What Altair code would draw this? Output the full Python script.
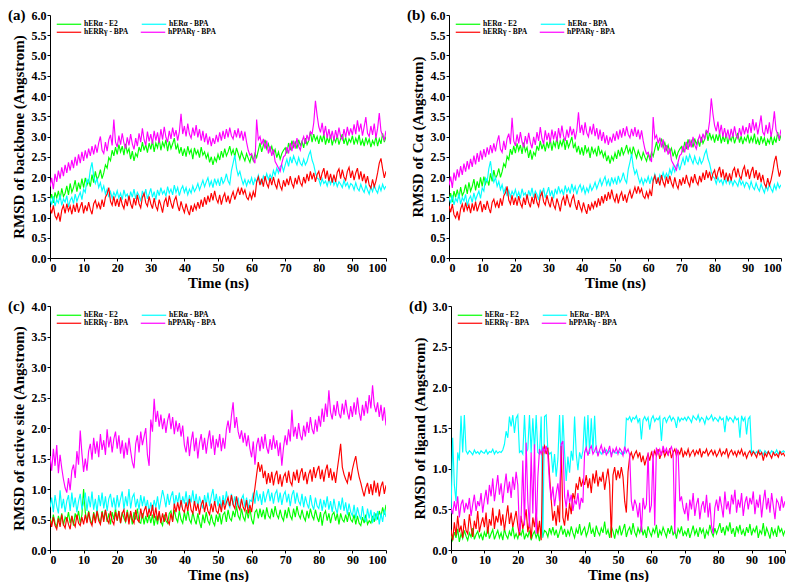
import pandas as pd
import altair as alt

# sampling grid (ns)
times = [i * 0.5 for i in range(201)]

series_names = ["hERα - E2", "hERα - BPA", "hERRγ - BPA", "hPPARγ - BPA"]
series_colors = ["#00FF00", "#00FFFF", "#FF0000", "#FF00FF"]
panel_labels = ["(a)", "(b)", "(c)", "(d)"]
y_titles = ["RMSD of backbone (Angstrom)", "RMSD of Cα (Angstrom)",
            "RMSD of active site (Angstrom)", "RMSD of ligand (Angstrom)"]
y_max = [6.0, 6.0, 4.0, 3.0]
x_ticks = [0, 10, 20, 30, 40, 50, 60, 70, 80, 90, 100]

# ---------------- panel (a): backbone ----------------
a_e2 = [
    1.40,1.58,1.36,1.62,1.48,1.66,1.44,1.72,1.52,1.60,1.78,1.56,1.84,1.62,1.74,1.92,1.64,1.86,1.70,1.96,
    1.74,1.98,1.80,1.92,1.76,2.06,1.86,2.14,1.94,2.02,2.18,1.96,2.10,2.30,2.22,2.48,2.40,2.66,2.52,2.74,
    2.56,2.80,2.62,2.76,2.54,2.82,2.60,2.70,2.44,2.64,2.40,2.58,2.50,2.74,2.62,2.86,2.66,2.80,2.60,2.84,
    2.68,2.90,2.62,2.84,2.72,2.94,2.66,2.86,2.74,2.92,2.64,2.88,2.70,2.82,2.96,2.68,2.80,2.58,2.74,2.52,
    2.70,2.50,2.76,2.58,2.68,2.44,2.72,2.56,2.66,2.48,2.74,2.54,2.62,2.46,2.58,2.36,2.50,2.30,2.48,2.38,
    2.56,2.42,2.64,2.48,2.70,2.52,2.62,2.76,2.56,2.68,2.50,2.72,2.58,2.44,2.62,2.50,2.40,2.58,2.46,2.36,
    2.54,2.40,2.58,2.48,2.66,2.84,2.62,2.78,2.92,2.70,2.82,2.64,2.76,2.58,2.68,2.48,2.62,2.44,2.58,2.66,
    2.72,2.58,2.84,2.66,2.90,2.74,2.86,2.70,2.92,2.78,2.88,2.72,2.96,2.80,2.90,3.12,2.86,3.06,2.90,3.00,
    2.82,3.02,2.86,3.06,2.80,2.98,2.84,3.04,2.78,2.96,2.86,3.02,2.80,2.94,3.06,2.82,2.98,2.78,2.94,2.86,
    3.02,2.80,2.96,2.84,3.04,2.78,2.92,2.76,2.98,2.82,2.94,2.74,2.90,2.80,3.00,2.76,2.94,2.82,3.08,2.86,
    3.00]
a_er_bpa = [
    1.48,1.32,1.52,1.28,1.44,1.36,1.56,1.30,1.46,1.38,1.54,1.26,1.42,1.50,1.34,1.58,1.40,1.52,1.62,1.44,
    1.70,1.62,1.94,1.86,2.18,2.36,2.02,1.84,1.96,1.74,1.86,1.66,1.78,1.58,1.70,1.50,1.64,1.48,1.62,1.52,
    1.66,1.48,1.60,1.44,1.68,1.52,1.58,1.42,1.64,1.50,1.70,1.46,1.62,1.54,1.40,1.66,1.50,1.70,1.46,1.58,
    1.72,1.50,1.64,1.44,1.68,1.54,1.74,1.58,1.66,1.52,1.76,1.60,1.70,1.56,1.80,1.62,1.74,1.54,1.70,1.78,
    1.62,1.74,1.56,1.70,1.60,1.78,1.64,1.72,1.84,1.68,1.80,1.92,1.76,1.88,1.98,1.78,1.90,1.74,1.96,1.82,
    1.94,1.78,2.00,1.84,1.92,2.08,1.90,1.82,2.16,2.34,2.54,2.22,2.04,2.14,1.96,1.82,1.94,1.78,1.92,1.84,
    1.98,1.80,1.96,1.86,2.04,1.90,1.84,2.02,1.92,2.08,1.94,2.06,1.96,2.16,2.04,2.22,2.10,2.26,2.30,2.14,
    2.30,2.44,2.26,2.50,2.34,2.52,2.40,2.30,2.48,2.34,2.28,2.44,2.30,2.38,2.54,2.64,2.42,2.30,2.10,1.98,
    1.94,1.80,1.96,1.84,1.90,1.78,1.94,1.82,1.98,1.80,1.90,1.76,1.88,1.82,1.74,1.92,1.78,1.86,1.72,1.84,
    1.80,1.68,1.86,1.72,1.66,1.82,1.70,1.62,1.80,1.68,1.58,1.76,1.64,1.80,1.68,1.60,1.78,1.66,1.82,1.70,
    1.78]
a_err_bpa = [
    1.26,1.10,1.30,1.04,0.96,1.12,0.90,1.18,1.30,1.10,1.34,1.16,1.28,1.08,1.32,1.14,1.36,1.12,1.26,1.38,
    1.10,1.30,1.16,1.38,1.20,1.08,1.34,1.42,1.24,1.36,1.20,1.44,1.26,1.50,1.58,1.74,1.40,1.30,1.52,1.28,
    1.46,1.26,1.50,1.32,1.22,1.46,1.28,1.54,1.34,1.22,1.48,1.30,1.56,1.34,1.24,1.50,1.60,1.36,1.28,1.52,
    1.34,1.22,1.48,1.28,1.18,1.44,1.30,1.12,1.38,1.48,1.26,1.54,1.36,1.22,1.42,1.52,1.30,1.16,1.40,1.24,
    1.12,1.34,1.18,1.06,1.30,1.14,1.32,1.20,1.38,1.22,1.44,1.26,1.50,1.32,1.54,1.38,1.60,1.42,1.66,1.46,
    1.36,1.56,1.32,1.50,1.60,1.38,1.54,1.34,1.52,1.64,1.44,1.58,1.72,1.56,1.74,1.58,1.68,1.50,1.44,1.60,
    1.46,1.64,1.50,1.88,2.00,1.80,1.96,1.76,2.02,1.84,1.74,1.98,1.80,2.00,1.82,1.72,1.96,1.78,1.68,1.92,
    1.76,1.96,1.80,2.02,1.84,1.74,1.98,1.82,2.04,1.86,1.78,2.00,1.84,2.08,1.90,2.14,1.94,2.10,1.88,2.06,
    2.14,1.92,2.10,2.22,1.96,2.16,1.90,2.08,1.86,2.06,1.88,2.12,2.20,1.96,2.18,2.00,1.92,2.14,2.24,1.98,
    2.16,1.92,2.10,2.22,1.94,2.14,1.90,2.08,1.84,2.02,1.80,1.72,1.94,1.76,1.90,2.10,2.34,2.46,2.20,1.98,
    2.14]
a_ppar_bpa = [
    1.76,1.98,1.70,2.08,1.88,2.16,1.96,2.24,2.02,2.30,2.10,2.36,2.16,2.42,2.22,2.50,2.28,2.56,2.34,2.62,
    2.40,2.66,2.46,2.70,2.52,2.76,2.56,2.80,2.60,2.84,3.00,2.66,2.58,2.86,2.64,2.92,3.04,2.78,3.42,2.86,
    2.74,3.02,2.80,3.08,2.84,2.70,2.98,2.78,3.06,2.82,2.68,2.96,2.76,3.08,2.86,3.20,2.92,2.78,3.12,2.88,
    3.06,2.82,3.14,2.90,3.10,2.84,3.18,2.92,3.24,2.98,2.86,3.14,2.94,3.22,3.00,3.16,2.90,3.12,3.56,3.06,
    3.26,3.00,3.32,3.06,2.96,3.22,3.02,3.28,2.98,3.18,2.90,3.14,2.86,3.08,2.80,3.00,2.76,2.96,2.82,3.04,
    2.86,3.10,2.90,3.14,2.94,3.18,2.98,3.22,3.02,2.94,3.16,2.98,3.20,2.96,3.14,2.90,3.12,2.86,2.66,2.54,
    2.58,2.44,2.34,3.42,2.92,3.00,2.80,2.94,2.70,2.90,2.58,2.76,2.52,2.68,2.38,2.30,2.22,2.14,2.34,2.50,
    2.54,2.74,2.58,2.84,2.64,2.90,2.70,2.96,2.76,2.66,2.88,3.00,2.82,3.04,2.90,3.12,3.06,3.34,3.88,3.52,
    3.24,3.10,3.34,3.02,3.26,2.96,3.18,2.94,3.14,2.90,3.16,2.96,3.22,3.00,2.92,3.18,2.98,3.24,3.02,3.20,
    3.04,3.30,3.06,3.40,3.12,3.32,3.02,3.24,3.48,3.08,3.00,3.26,3.04,3.32,2.96,3.20,3.58,3.14,3.02,2.92,
    3.14]

# ---------------- panel (b): C-alpha ----------------
b_e2 = [
    1.43,1.60,1.38,1.65,1.50,1.69,1.47,1.75,1.54,1.63,1.81,1.58,1.87,1.65,1.77,1.95,1.67,1.89,1.73,1.99,
    1.77,2.01,1.83,1.95,1.79,2.09,1.89,2.17,1.97,2.05,2.21,1.99,2.13,2.33,2.25,2.51,2.43,2.69,2.55,2.77,
    2.59,2.83,2.65,2.79,2.57,2.85,2.63,2.73,2.47,2.67,2.43,2.61,2.53,2.77,2.65,2.89,2.69,2.83,2.63,2.87,
    2.71,2.93,2.65,2.87,2.75,2.97,2.69,2.89,2.77,2.95,2.67,2.91,2.73,2.85,2.99,2.71,2.83,2.61,2.77,2.55,
    2.73,2.53,2.79,2.61,2.71,2.47,2.75,2.59,2.69,2.51,2.77,2.57,2.65,2.49,2.61,2.39,2.53,2.33,2.51,2.41,
    2.59,2.45,2.67,2.51,2.73,2.55,2.65,2.79,2.59,2.71,2.53,2.75,2.61,2.47,2.65,2.53,2.43,2.61,2.49,2.39,
    2.57,2.43,2.61,2.51,2.69,2.87,2.65,2.81,2.95,2.73,2.85,2.67,2.79,2.61,2.71,2.51,2.65,2.47,2.61,2.69,
    2.75,2.61,2.87,2.69,2.93,2.77,2.89,2.73,2.95,2.81,2.91,2.75,2.99,2.83,2.93,3.15,2.89,3.09,2.93,3.03,
    2.85,3.05,2.89,3.09,2.83,3.01,2.87,3.07,2.81,2.99,2.89,3.05,2.83,2.97,3.09,2.85,3.01,2.81,2.97,2.89,
    3.05,2.83,2.99,2.87,3.07,2.81,2.95,2.79,3.01,2.85,2.97,2.77,2.93,2.83,3.03,2.79,2.97,2.85,3.11,2.89,
    3.03]
b_er_bpa = [
    1.51,1.35,1.55,1.31,1.47,1.39,1.59,1.33,1.49,1.41,1.57,1.29,1.45,1.53,1.37,1.61,1.43,1.55,1.65,1.47,
    1.73,1.65,1.97,1.89,2.21,2.39,2.05,1.87,1.99,1.77,1.89,1.69,1.81,1.61,1.73,1.53,1.67,1.51,1.65,1.55,
    1.69,1.51,1.63,1.47,1.71,1.55,1.61,1.45,1.67,1.53,1.73,1.49,1.65,1.57,1.43,1.69,1.53,1.73,1.49,1.61,
    1.75,1.53,1.67,1.47,1.71,1.57,1.77,1.61,1.69,1.55,1.79,1.63,1.73,1.59,1.83,1.65,1.77,1.57,1.73,1.81,
    1.65,1.77,1.59,1.73,1.63,1.81,1.67,1.75,1.87,1.71,1.83,1.95,1.79,1.91,2.01,1.81,1.93,1.77,1.99,1.85,
    1.97,1.81,2.03,1.87,1.95,2.11,1.93,1.85,2.19,2.37,2.57,2.25,2.07,2.17,1.99,1.85,1.97,1.81,1.95,1.87,
    2.01,1.83,1.99,1.89,2.07,1.93,1.87,2.05,1.95,2.11,1.97,2.09,1.99,2.19,2.07,2.25,2.13,2.29,2.33,2.17,
    2.33,2.47,2.29,2.53,2.37,2.55,2.43,2.33,2.51,2.37,2.31,2.47,2.33,2.41,2.57,2.67,2.45,2.33,2.13,2.01,
    1.97,1.83,1.99,1.87,1.93,1.81,1.97,1.85,2.01,1.83,1.93,1.79,1.91,1.85,1.77,1.95,1.81,1.89,1.75,1.87,
    1.83,1.71,1.89,1.75,1.69,1.85,1.73,1.65,1.83,1.71,1.61,1.79,1.67,1.83,1.71,1.63,1.81,1.69,1.85,1.73,
    1.81]
b_err_bpa = [
    1.29,1.13,1.33,1.07,0.99,1.15,0.93,1.21,1.33,1.13,1.37,1.19,1.31,1.11,1.35,1.17,1.39,1.15,1.29,1.41,
    1.13,1.33,1.19,1.41,1.23,1.11,1.37,1.45,1.27,1.39,1.23,1.47,1.29,1.53,1.61,1.77,1.43,1.33,1.55,1.31,
    1.49,1.29,1.53,1.35,1.25,1.49,1.31,1.57,1.37,1.25,1.51,1.33,1.59,1.37,1.27,1.53,1.63,1.39,1.31,1.55,
    1.37,1.25,1.51,1.31,1.21,1.47,1.33,1.15,1.41,1.51,1.29,1.57,1.39,1.25,1.45,1.55,1.33,1.19,1.43,1.27,
    1.15,1.37,1.21,1.09,1.33,1.17,1.35,1.23,1.41,1.25,1.47,1.29,1.53,1.35,1.57,1.41,1.63,1.45,1.69,1.49,
    1.39,1.59,1.35,1.53,1.63,1.41,1.57,1.37,1.55,1.67,1.47,1.61,1.75,1.59,1.77,1.61,1.71,1.53,1.47,1.63,
    1.49,1.67,1.53,1.91,2.03,1.83,1.99,1.79,2.05,1.87,1.77,2.01,1.83,2.03,1.85,1.75,1.99,1.81,1.71,1.95,
    1.79,1.99,1.83,2.05,1.87,1.77,2.01,1.85,2.07,1.89,1.81,2.03,1.87,2.11,1.93,2.17,1.97,2.13,1.91,2.09,
    2.17,1.95,2.13,2.25,1.99,2.19,1.93,2.11,1.89,2.09,1.91,2.15,2.23,1.99,2.21,2.03,1.95,2.17,2.27,2.01,
    2.19,1.95,2.13,2.25,1.97,2.17,1.93,2.11,1.87,2.05,1.83,1.75,1.97,1.79,1.93,2.13,2.38,2.52,2.23,2.01,
    2.17]
b_ppar_bpa = [
    1.79,2.01,1.73,2.11,1.91,2.19,1.99,2.27,2.05,2.33,2.13,2.39,2.19,2.45,2.25,2.53,2.31,2.59,2.37,2.65,
    2.43,2.69,2.49,2.73,2.55,2.79,2.59,2.83,2.63,2.87,3.03,2.69,2.61,2.89,2.67,2.95,3.07,2.81,3.46,2.89,
    2.77,3.05,2.83,3.11,2.87,2.73,3.01,2.81,3.09,2.85,2.71,2.99,2.79,3.11,2.89,3.23,2.95,2.81,3.15,2.91,
    3.09,2.85,3.17,2.93,3.13,2.87,3.21,2.95,3.27,3.01,2.89,3.17,2.97,3.25,3.03,3.19,2.93,3.15,3.60,3.09,
    3.29,3.03,3.35,3.09,2.99,3.25,3.05,3.31,3.01,3.21,2.93,3.17,2.89,3.11,2.83,3.03,2.79,2.99,2.85,3.07,
    2.89,3.13,2.93,3.17,2.97,3.21,3.01,3.25,3.05,2.97,3.19,3.01,3.23,2.99,3.17,2.93,3.15,2.89,2.69,2.57,
    2.61,2.47,2.37,3.48,2.95,3.03,2.83,2.97,2.73,2.93,2.61,2.79,2.55,2.71,2.41,2.33,2.25,2.17,2.37,2.53,
    2.57,2.77,2.61,2.87,2.67,2.93,2.73,2.99,2.79,2.69,2.91,3.03,2.85,3.07,2.93,3.15,3.09,3.38,3.94,3.56,
    3.27,3.13,3.37,3.05,3.29,2.99,3.21,2.97,3.17,2.93,3.19,2.99,3.25,3.03,2.95,3.21,3.01,3.27,3.05,3.23,
    3.07,3.33,3.09,3.43,3.15,3.35,3.05,3.27,3.52,3.11,3.03,3.29,3.07,3.35,2.99,3.23,3.62,3.17,3.05,2.95,
    3.17]

# ---------------- panel (c): active site ----------------
c_e2 = [
    0.52,0.42,0.58,0.44,0.38,0.56,0.46,0.60,0.40,0.54,0.48,0.62,0.44,0.56,0.40,0.60,0.50,0.64,0.44,0.58,
    1.00,0.62,0.46,0.64,0.50,0.42,0.62,0.48,0.66,0.52,0.44,0.64,0.50,0.66,0.46,0.60,0.42,0.62,0.50,0.68,
    0.48,0.64,0.44,0.62,0.52,0.46,0.66,0.48,0.60,0.42,0.62,0.50,0.68,0.46,0.44,0.60,0.42,0.56,0.44,0.58,
    0.44,0.58,0.40,0.56,0.42,0.60,0.46,0.40,0.58,0.48,0.44,0.60,0.64,0.48,0.66,0.52,0.46,0.64,0.50,0.44,
    0.62,0.48,0.66,0.50,0.44,0.62,0.50,0.42,0.60,0.46,0.36,0.58,0.44,0.62,0.48,0.42,0.58,0.46,0.40,0.58,
    0.46,0.60,0.42,0.58,0.62,0.46,0.66,0.52,0.48,0.64,0.54,0.72,0.56,0.50,0.68,0.54,0.48,0.66,0.52,0.68,
    0.50,0.42,0.62,0.66,0.52,0.68,0.54,0.66,0.50,0.70,0.56,0.52,0.68,0.54,0.72,0.58,0.52,0.66,0.54,0.48,
    0.66,0.52,0.70,0.56,0.50,0.68,0.54,0.72,0.58,0.52,0.66,0.54,0.48,0.64,0.52,0.68,0.56,0.50,0.66,0.54,
    0.46,0.62,0.40,0.58,0.64,0.48,0.60,0.44,0.58,0.62,0.48,0.60,0.42,0.60,0.50,0.46,0.58,0.46,0.62,0.50,
    0.46,0.58,0.42,0.56,0.44,0.40,0.54,0.44,0.58,0.42,0.48,0.44,0.56,0.46,0.60,0.50,0.64,0.54,0.70,0.58,
    0.74]
c_er_bpa = [
    0.70,0.86,0.62,0.90,0.72,0.60,0.98,0.68,0.84,0.62,0.80,0.90,0.64,0.94,0.70,0.86,0.62,0.80,0.92,0.66,
    0.78,0.94,0.64,0.88,0.70,0.96,0.66,0.84,0.62,0.90,0.72,0.94,0.68,0.88,0.64,0.84,0.92,0.70,0.86,0.66,
    0.90,0.70,0.84,0.96,0.66,0.88,0.72,1.00,0.68,0.86,0.92,0.70,0.84,0.66,0.90,0.72,0.88,0.68,0.82,0.62,
    0.78,0.64,0.82,0.70,0.88,0.66,0.82,0.98,0.86,0.70,0.92,0.74,0.88,0.96,0.72,0.90,0.76,0.94,0.70,0.88,
    0.76,0.96,0.72,0.90,0.78,0.98,0.74,0.92,0.70,0.88,0.76,0.68,0.90,0.74,0.94,0.72,0.88,1.00,0.76,0.92,
    0.72,0.88,0.68,0.90,0.74,0.96,0.76,0.70,0.92,0.74,0.88,0.72,0.86,0.66,0.84,0.90,0.70,0.86,0.68,0.82,
    0.80,0.94,0.76,0.98,0.80,0.92,0.74,0.96,0.78,0.90,1.00,0.80,0.94,0.76,0.92,0.98,0.78,0.94,0.74,0.90,
    0.96,0.78,0.92,0.72,0.90,0.98,0.76,0.94,0.80,0.74,0.92,0.70,0.88,0.76,0.68,0.90,0.74,0.66,0.86,0.72,
    0.68,0.84,0.64,0.82,0.70,0.88,0.66,0.80,0.62,0.84,0.68,0.60,0.80,0.66,0.86,0.64,0.78,0.58,0.76,0.62,
    0.56,0.74,0.52,0.70,0.58,0.50,0.72,0.54,0.46,0.68,0.52,0.66,0.44,0.62,0.48,0.64,0.42,0.60,0.46,0.66,
    0.54]
c_err_bpa = [
    0.50,0.38,0.54,0.40,0.34,0.52,0.38,0.58,0.42,0.36,0.54,0.42,0.34,0.56,0.44,0.38,0.58,0.44,0.40,0.54,
    0.42,0.58,0.44,0.62,0.46,0.40,0.60,0.44,0.64,0.48,0.42,0.62,0.46,0.66,0.50,0.44,0.64,0.48,0.42,0.62,
    0.48,0.64,0.44,0.60,0.66,0.46,0.62,0.42,0.64,0.50,0.44,0.66,0.50,0.46,0.68,0.52,0.64,0.72,0.54,0.68,
    0.56,0.74,0.52,0.70,0.48,0.64,0.44,0.60,0.46,0.62,0.48,0.42,0.60,0.46,0.76,0.62,0.78,0.64,0.82,0.66,
    0.62,0.78,0.64,0.84,0.66,0.60,0.80,0.64,0.76,0.58,0.74,0.82,0.62,0.78,0.64,0.58,0.76,0.62,0.80,0.64,
    0.60,0.76,0.62,0.82,0.66,0.78,0.86,0.72,0.90,0.74,0.68,0.88,0.72,0.66,0.84,0.70,0.64,0.82,0.60,0.74,
    0.62,0.84,1.02,1.24,1.44,1.28,1.40,1.18,1.30,1.08,1.26,1.10,1.28,1.06,1.22,1.30,1.08,1.24,1.04,1.20,
    1.26,1.10,1.30,1.12,1.06,1.28,1.14,1.32,1.10,1.26,1.34,1.14,1.28,1.08,1.24,1.32,1.12,1.36,1.18,1.30,
    1.38,1.16,1.32,1.12,1.30,1.40,1.18,1.34,1.14,1.28,1.10,1.32,1.52,1.74,1.36,1.24,1.16,1.10,1.28,1.14,
    1.32,1.44,1.54,1.34,1.20,1.10,0.98,0.88,1.02,1.10,0.92,1.08,0.90,1.14,0.94,1.10,0.88,1.04,1.12,0.92,
    1.06]
c_ppar_bpa = [
    1.54,1.30,1.66,1.38,1.72,1.26,1.56,1.34,1.16,1.02,0.94,1.18,0.98,1.30,1.40,1.18,1.62,1.40,1.96,1.58,
    1.28,1.50,1.30,1.62,1.74,1.48,1.84,1.58,1.78,1.52,1.90,1.64,1.80,1.56,1.98,1.68,1.86,1.60,1.82,1.94,
    1.66,1.88,1.58,1.80,1.50,1.76,1.56,1.84,1.62,1.44,1.34,1.74,1.88,1.60,1.94,1.72,1.86,2.00,1.56,1.38,
    2.14,1.94,2.48,2.10,2.28,2.02,2.22,1.98,2.16,1.92,2.12,2.24,1.98,2.18,1.90,2.12,1.94,2.08,1.86,2.04,
    1.72,1.60,1.86,1.54,1.78,1.94,1.62,1.84,1.50,1.76,1.90,1.64,1.84,1.58,1.80,1.96,1.66,1.88,1.56,1.82,
    1.68,1.90,1.62,1.84,1.66,1.98,2.12,1.92,2.20,2.42,2.00,2.18,1.94,1.82,1.96,1.76,1.92,1.70,1.88,1.66,
    1.52,1.78,1.40,1.72,1.84,1.62,1.86,1.66,1.90,1.68,1.58,1.82,1.64,1.88,1.66,1.80,1.54,1.76,1.38,1.68,
    1.88,1.72,1.98,1.78,2.30,1.86,2.02,1.82,2.08,1.88,1.80,2.04,1.86,2.10,1.92,2.18,1.98,1.90,2.14,1.94,
    2.20,2.02,2.32,2.10,2.40,2.18,2.62,2.26,2.14,2.38,2.20,2.44,2.24,2.16,2.40,2.22,2.46,2.26,2.14,2.36,
    2.18,2.42,2.22,2.50,2.26,2.12,2.38,2.20,2.44,2.24,2.54,2.32,2.70,2.38,2.26,2.42,2.18,2.38,2.12,2.34,
    2.04]

# ---------------- panel (d): ligand ----------------
d_e2 = [
    0.18,0.12,0.22,0.15,0.26,0.10,0.20,0.14,0.24,0.17,0.12,0.21,0.16,0.27,0.13,0.19,0.23,0.15,0.20,0.12,
    0.22,0.16,0.28,0.14,0.20,0.25,0.13,0.19,0.24,0.15,0.21,0.12,0.26,0.18,0.14,0.23,0.17,0.29,0.15,0.20,
    0.14,0.22,0.18,0.26,0.13,0.20,0.16,0.24,0.12,0.19,0.23,0.15,0.21,0.11,0.26,0.17,0.24,0.22,0.16,0.27,
    0.20,0.28,0.18,0.25,0.15,0.22,0.30,0.19,0.26,0.16,0.24,0.18,0.29,0.21,0.15,0.26,0.20,0.32,0.18,0.24,
    0.28,0.17,0.23,0.34,0.20,0.26,0.16,0.30,0.22,0.18,0.27,0.21,0.35,0.19,0.25,0.15,0.29,0.23,0.14,0.26,
    0.20,0.30,0.18,0.25,0.32,0.16,0.24,0.28,0.19,0.33,0.22,0.17,0.27,0.21,0.30,0.18,0.25,0.15,0.29,0.22,
    0.17,0.26,0.21,0.31,0.15,0.24,0.19,0.28,0.22,0.16,0.27,0.20,0.30,0.18,0.24,0.14,0.26,0.21,0.29,0.17,
    0.23,0.18,0.27,0.15,0.22,0.30,0.19,0.25,0.16,0.28,0.21,0.26,0.14,0.24,0.19,0.31,0.22,0.17,0.27,0.20,
    0.26,0.33,0.21,0.28,0.18,0.30,0.23,0.34,0.20,0.27,0.16,0.29,0.22,0.31,0.19,0.25,0.17,0.28,0.21,0.32,
    0.18,0.26,0.22,0.30,0.15,0.24,0.20,0.33,0.17,0.27,0.21,0.14,0.28,0.19,0.25,0.16,0.30,0.22,0.26,0.18,
    0.24]
d_er_bpa = [
    0.45,1.38,0.80,0.60,1.20,1.10,1.65,1.20,1.66,1.22,1.18,1.22,1.20,1.17,1.23,1.19,1.21,1.18,1.22,1.20,
    1.19,1.23,1.18,1.21,1.20,1.24,1.18,1.22,1.19,1.21,1.20,1.23,1.30,1.46,1.38,1.64,1.52,1.66,1.44,1.62,
    1.66,1.20,1.22,1.18,1.66,1.20,1.24,1.66,1.19,1.62,1.22,1.66,1.20,1.18,1.64,0.15,1.64,1.66,1.22,1.18,
    1.20,0.95,1.18,0.90,1.12,1.66,1.05,1.66,1.20,0.85,1.15,0.95,1.22,1.10,1.64,1.18,0.98,1.20,1.12,1.22,
    1.64,1.20,1.66,1.18,1.62,1.22,1.65,1.20,1.19,1.22,1.18,1.21,1.20,1.23,1.19,1.22,1.18,1.21,1.20,1.19,
    1.22,1.20,1.18,1.21,1.19,1.62,1.60,1.64,1.58,1.63,1.61,1.65,1.57,1.62,1.36,1.60,1.64,1.59,1.63,1.48,
    1.61,1.65,1.58,1.62,1.60,1.64,1.34,1.61,1.63,1.57,1.62,1.65,1.59,1.63,1.60,1.50,1.64,1.58,1.62,1.60,
    1.63,1.59,1.64,1.61,1.57,1.65,1.62,1.60,1.66,1.58,1.63,1.61,1.55,1.64,1.60,1.62,1.66,1.59,1.63,1.61,
    1.58,1.64,1.60,1.62,1.45,1.65,1.59,1.63,1.61,1.57,1.64,1.60,1.62,1.38,1.65,1.59,1.63,1.42,1.61,1.64,
    1.20,1.22,1.18,1.21,1.19,1.23,1.20,1.17,1.22,1.19,1.21,1.18,1.22,1.20,1.19,1.23,1.18,1.21,1.20,1.22,
    1.20]
d_err_bpa = [
    0.25,0.12,0.34,0.18,0.42,0.22,0.30,0.15,0.38,0.24,0.20,0.44,0.28,0.16,0.36,0.26,0.48,0.22,0.32,0.40,
    0.28,0.46,0.20,0.38,0.30,0.52,0.26,0.42,0.34,0.50,0.30,0.44,0.24,0.40,0.55,0.32,0.46,0.28,0.38,0.48,
    0.30,0.18,0.42,0.26,0.36,0.50,0.22,0.34,0.14,0.40,0.28,0.46,0.20,0.36,0.12,1.22,1.28,1.18,1.26,0.92,
    0.62,0.36,0.48,0.30,0.55,0.34,1.28,0.40,0.30,0.52,0.36,0.58,0.44,0.70,0.62,0.82,0.74,0.90,0.78,0.86,
    0.80,0.92,0.76,0.88,0.70,0.94,0.82,0.98,0.78,0.90,0.84,0.96,0.74,0.88,1.00,0.80,0.15,0.92,1.02,0.86,
    0.98,0.88,1.02,0.90,0.60,0.46,0.96,1.15,1.20,1.12,1.18,1.22,1.14,1.20,1.08,1.16,1.04,1.12,1.18,1.10,
    1.20,1.14,1.22,1.16,1.24,1.12,1.19,1.23,1.15,1.21,1.17,1.25,1.13,1.20,1.24,1.16,1.22,1.18,1.26,1.14,
    1.21,1.17,1.24,1.15,1.20,1.23,1.16,1.22,1.18,1.25,1.14,1.21,1.19,1.24,1.16,1.20,1.23,1.17,1.22,1.15,
    1.19,1.24,1.16,1.21,1.18,1.25,1.14,1.20,1.23,1.17,1.21,1.15,1.22,1.18,1.24,1.16,1.20,1.13,1.19,1.22,
    1.16,1.21,1.18,1.14,1.22,1.17,1.20,1.10,1.19,1.15,1.21,1.17,1.13,1.20,1.16,1.18,1.14,1.21,1.17,1.19,
    1.15]
d_ppar_bpa = [
    0.52,0.44,0.60,0.48,0.66,0.40,0.56,0.62,0.46,0.58,0.50,0.64,0.42,0.56,0.68,0.48,0.60,0.54,0.70,0.46,
    0.62,0.74,0.56,0.80,0.66,0.88,0.60,0.76,0.92,0.68,0.82,0.58,0.78,0.94,0.70,0.84,0.64,0.90,0.74,0.96,
    0.80,0.22,0.40,1.10,0.30,1.32,0.60,0.28,1.20,0.45,1.30,0.20,0.90,1.24,1.18,1.26,1.20,1.28,1.16,0.82,
    0.62,0.78,0.54,0.70,0.82,0.60,1.30,1.34,0.66,0.52,0.74,0.58,0.68,0.48,0.62,0.56,0.70,0.50,0.64,0.58,
    1.20,1.26,1.16,1.24,1.28,1.18,1.22,1.27,1.15,1.23,1.29,1.19,1.25,1.17,1.21,1.28,1.14,1.24,1.20,1.26,
    1.18,1.25,1.22,1.16,1.27,1.20,1.24,1.17,0.60,0.48,0.62,0.55,0.40,0.58,0.22,0.64,0.50,0.56,1.20,0.46,
    0.55,1.22,0.30,1.26,1.18,1.24,1.16,1.28,1.20,1.25,1.17,1.23,1.27,1.19,0.20,1.24,1.21,0.60,0.66,0.52,
    0.44,0.58,0.36,0.62,0.50,0.70,0.42,0.56,0.64,0.38,0.54,0.60,0.46,0.68,0.40,0.58,0.30,0.20,0.52,0.62,
    0.48,0.66,0.54,0.40,0.72,0.50,0.60,0.44,0.68,0.56,0.74,0.46,0.62,0.52,0.70,0.42,0.58,0.66,0.50,0.64,
    0.56,0.72,0.44,0.62,0.52,0.68,0.40,0.60,0.74,0.50,0.64,0.46,0.70,0.54,0.38,0.62,0.58,0.48,0.66,0.52,
    0.60]

panel_series = [
    [a_e2, a_er_bpa, a_err_bpa, a_ppar_bpa],
    [b_e2, b_er_bpa, b_err_bpa, b_ppar_bpa],
    [c_e2, c_er_bpa, c_err_bpa, c_ppar_bpa],
    [d_e2, d_er_bpa, d_err_bpa, d_ppar_bpa],
]
panel_widths = [336, 332, 336, 334]
panel_heights = [243, 243, 244, 244]

SERIF = "Liberation Serif"


def build_df(arrays, names):
    rows = []
    for name, arr in zip(names, arrays):
        for t, v in zip(times, arr):
            rows.append({"t": t, "v": v, "s": name})
    return pd.DataFrame(rows)


def make_panel(i):
    ymax = y_max[i]
    yvals = [j * 0.5 for j in range(int(ymax * 2) + 1)]
    x_enc = alt.X("t:Q", scale=alt.Scale(domain=[0, 100], nice=False),
                  axis=alt.Axis(values=x_ticks, title="Time (ns)", format="d"))
    y_enc = alt.Y("v:Q", scale=alt.Scale(domain=[0, ymax], nice=False),
                  axis=alt.Axis(values=yvals, format=".1f", title=y_titles[i]))
    layers = []
    # two legend rows: (E2, ER-BPA) then (ERR-BPA, PPAR-BPA)
    for r, (leg_y, col_pad) in enumerate([(-4, 21), (4, 9)]):
        names = series_names[2 * r:2 * r + 2]
        cols = series_colors[2 * r:2 * r + 2]
        df = build_df(panel_series[i][2 * r:2 * r + 2], names)
        layers.append(
            alt.Chart(df).mark_line(strokeWidth=1.15, clip=True).encode(
                x=x_enc, y=y_enc,
                color=alt.Color("s:N", sort=names,
                                scale=alt.Scale(domain=names, range=cols),
                                legend=alt.Legend(orient="none", legendX=6, legendY=leg_y,
                                                  direction="horizontal", columns=2,
                                                  title=None, symbolType="stroke", symbolSize=600,
                                                  symbolStrokeWidth=1.2, labelFont=SERIF,
                                                  labelFontWeight="bold", labelFontSize=7.5,
                                                  labelOffset=2, rowPadding=0,
                                                  columnPadding=col_pad, padding=0)),
            )
        )
    lab = alt.Chart(pd.DataFrame({"lab": [panel_labels[i]]})).mark_text(
        font=SERIF, fontWeight="bold", fontSize=15, align="left", baseline="middle"
    ).encode(x=alt.value(-42), y=alt.value(0), text="lab:N")
    layers.append(lab)
    return alt.layer(*layers).resolve_scale(color="independent").properties(
        width=panel_widths[i], height=panel_heights[i])


top = alt.hconcat(make_panel(0), make_panel(1), spacing=20)
bottom = alt.hconcat(make_panel(2), make_panel(3), spacing=22)
chart = alt.vconcat(top, bottom, spacing=9, padding=0).configure_view(stroke=None).configure_axis(
    grid=False, domainColor="black", tickColor="black", labelColor="black", titleColor="black",
    labelFont=SERIF, labelFontWeight="bold", labelFontSize=12,
    titleFont=SERIF, titleFontWeight="bold", titleFontSize=15,
    tickSize=3, labelPadding=1, domainWidth=1, tickWidth=1,
    labelOverlap=False,
).configure_axisX(titlePadding=2).configure_axisY(titlePadding=5)

chart.save("out.html", embed_options={"renderer": "svg", "actions": False})
